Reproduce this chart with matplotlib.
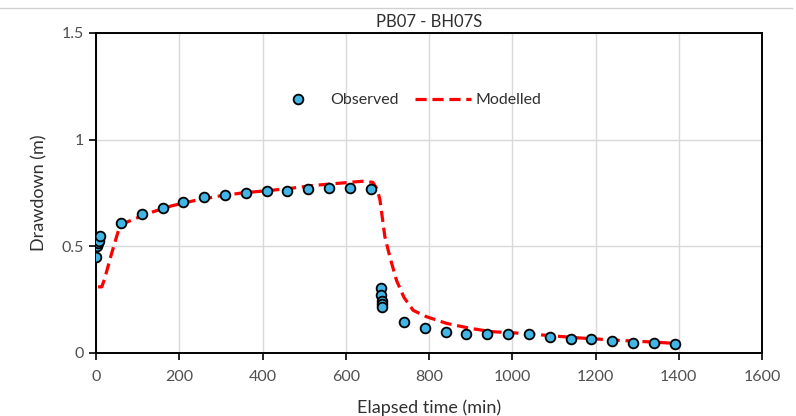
import matplotlib.pyplot as plt
from matplotlib.lines import Line2D

# observed drawdown (pumping then recovery)
obs_t = [1, 3, 5, 7, 10, 60, 110, 160, 210, 260, 310, 360, 410, 460, 510, 560, 610, 660,
         684, 685, 686, 687, 688, 740, 790, 840, 890, 940, 990, 1040, 1090, 1140, 1190,
         1240, 1290, 1340, 1390]
obs_s = [0.45, 0.50, 0.515, 0.525, 0.55, 0.61, 0.65, 0.68, 0.71, 0.73, 0.74, 0.75, 0.76,
         0.76, 0.77, 0.775, 0.775, 0.77,
         0.305, 0.27, 0.245, 0.23, 0.215, 0.145, 0.116, 0.10, 0.089, 0.088, 0.088, 0.088,
         0.075, 0.065, 0.065, 0.057, 0.047, 0.047, 0.04]

# modelled curve
mod_t = [5, 14, 21, 38, 54, 70, 94, 134, 182, 238, 294, 350, 406, 460, 520, 580, 640, 665,
         675, 682, 694, 706, 722, 740, 762, 794, 842, 898, 950, 1000, 1050, 1100, 1150,
         1200, 1250, 1300, 1350, 1390]
mod_s = [0.31, 0.31, 0.35, 0.47, 0.575, 0.61, 0.63, 0.66, 0.69, 0.715, 0.735, 0.75, 0.76,
         0.77, 0.785, 0.795, 0.805, 0.80, 0.77, 0.72, 0.545, 0.45, 0.34, 0.26, 0.2, 0.17,
         0.139, 0.116, 0.1, 0.095, 0.088, 0.08, 0.072, 0.066, 0.06, 0.055, 0.05, 0.045]

plt.rcParams['font.family'] = ['Lato', 'DejaVu Sans']

fig = plt.figure(figsize=(7.96, 4.16), dpi=100)
ax = fig.add_axes([96/796, 1-353/416, 666/796, 320/416])

ax.plot(mod_t, mod_s, color='#ff0000', lw=2.3, dashes=(3.5, 1.8), label='Modelled', zorder=3)
ax.plot(obs_t, obs_s, 'o', ms=7, mfc='#41b6e6', mec='black', mew=1.3, label='Observed', zorder=4)

ax.set_xlim(0, 1600)
ax.set_ylim(0, 1.5)
ax.set_xticks(range(0, 1601, 200))
ax.set_yticks([0, 0.5, 1, 1.5])
ax.set_yticklabels(['0', '0.5', '1', '1.5'])
ax.grid(True, color='#d9d9d9', lw=1)
ax.set_axisbelow(True)
for sp in ax.spines.values():
    sp.set_color('black')
    sp.set_linewidth(1.4)
ax.tick_params(direction='out', length=5, width=1.2, labelsize=11.5, labelcolor='#505050')
ax.tick_params(axis='x', pad=7)

ax.set_xlabel('Elapsed time (min)', fontsize=13, color='#303030', labelpad=11)
ax.set_ylabel('Drawdown (m)', fontsize=13, color='#303030', labelpad=10)
ax.set_title('PB07 - BH07S', fontsize=12, color='#303030', pad=4)

h, l = ax.get_legend_handles_labels()
ax.legend(h[::-1], l[::-1], ncol=2, frameon=False, loc='center', bbox_to_anchor=(0.465, 0.79),
          fontsize=11.5, handlelength=3.5, handletextpad=0.3, columnspacing=1.0,
          labelcolor='#303030')

fig.add_artist(Line2D([0, 0.995], [1-8/416, 1-8/416], color='#d0d0d0', lw=1))

fig.savefig('out.png', dpi=100)
